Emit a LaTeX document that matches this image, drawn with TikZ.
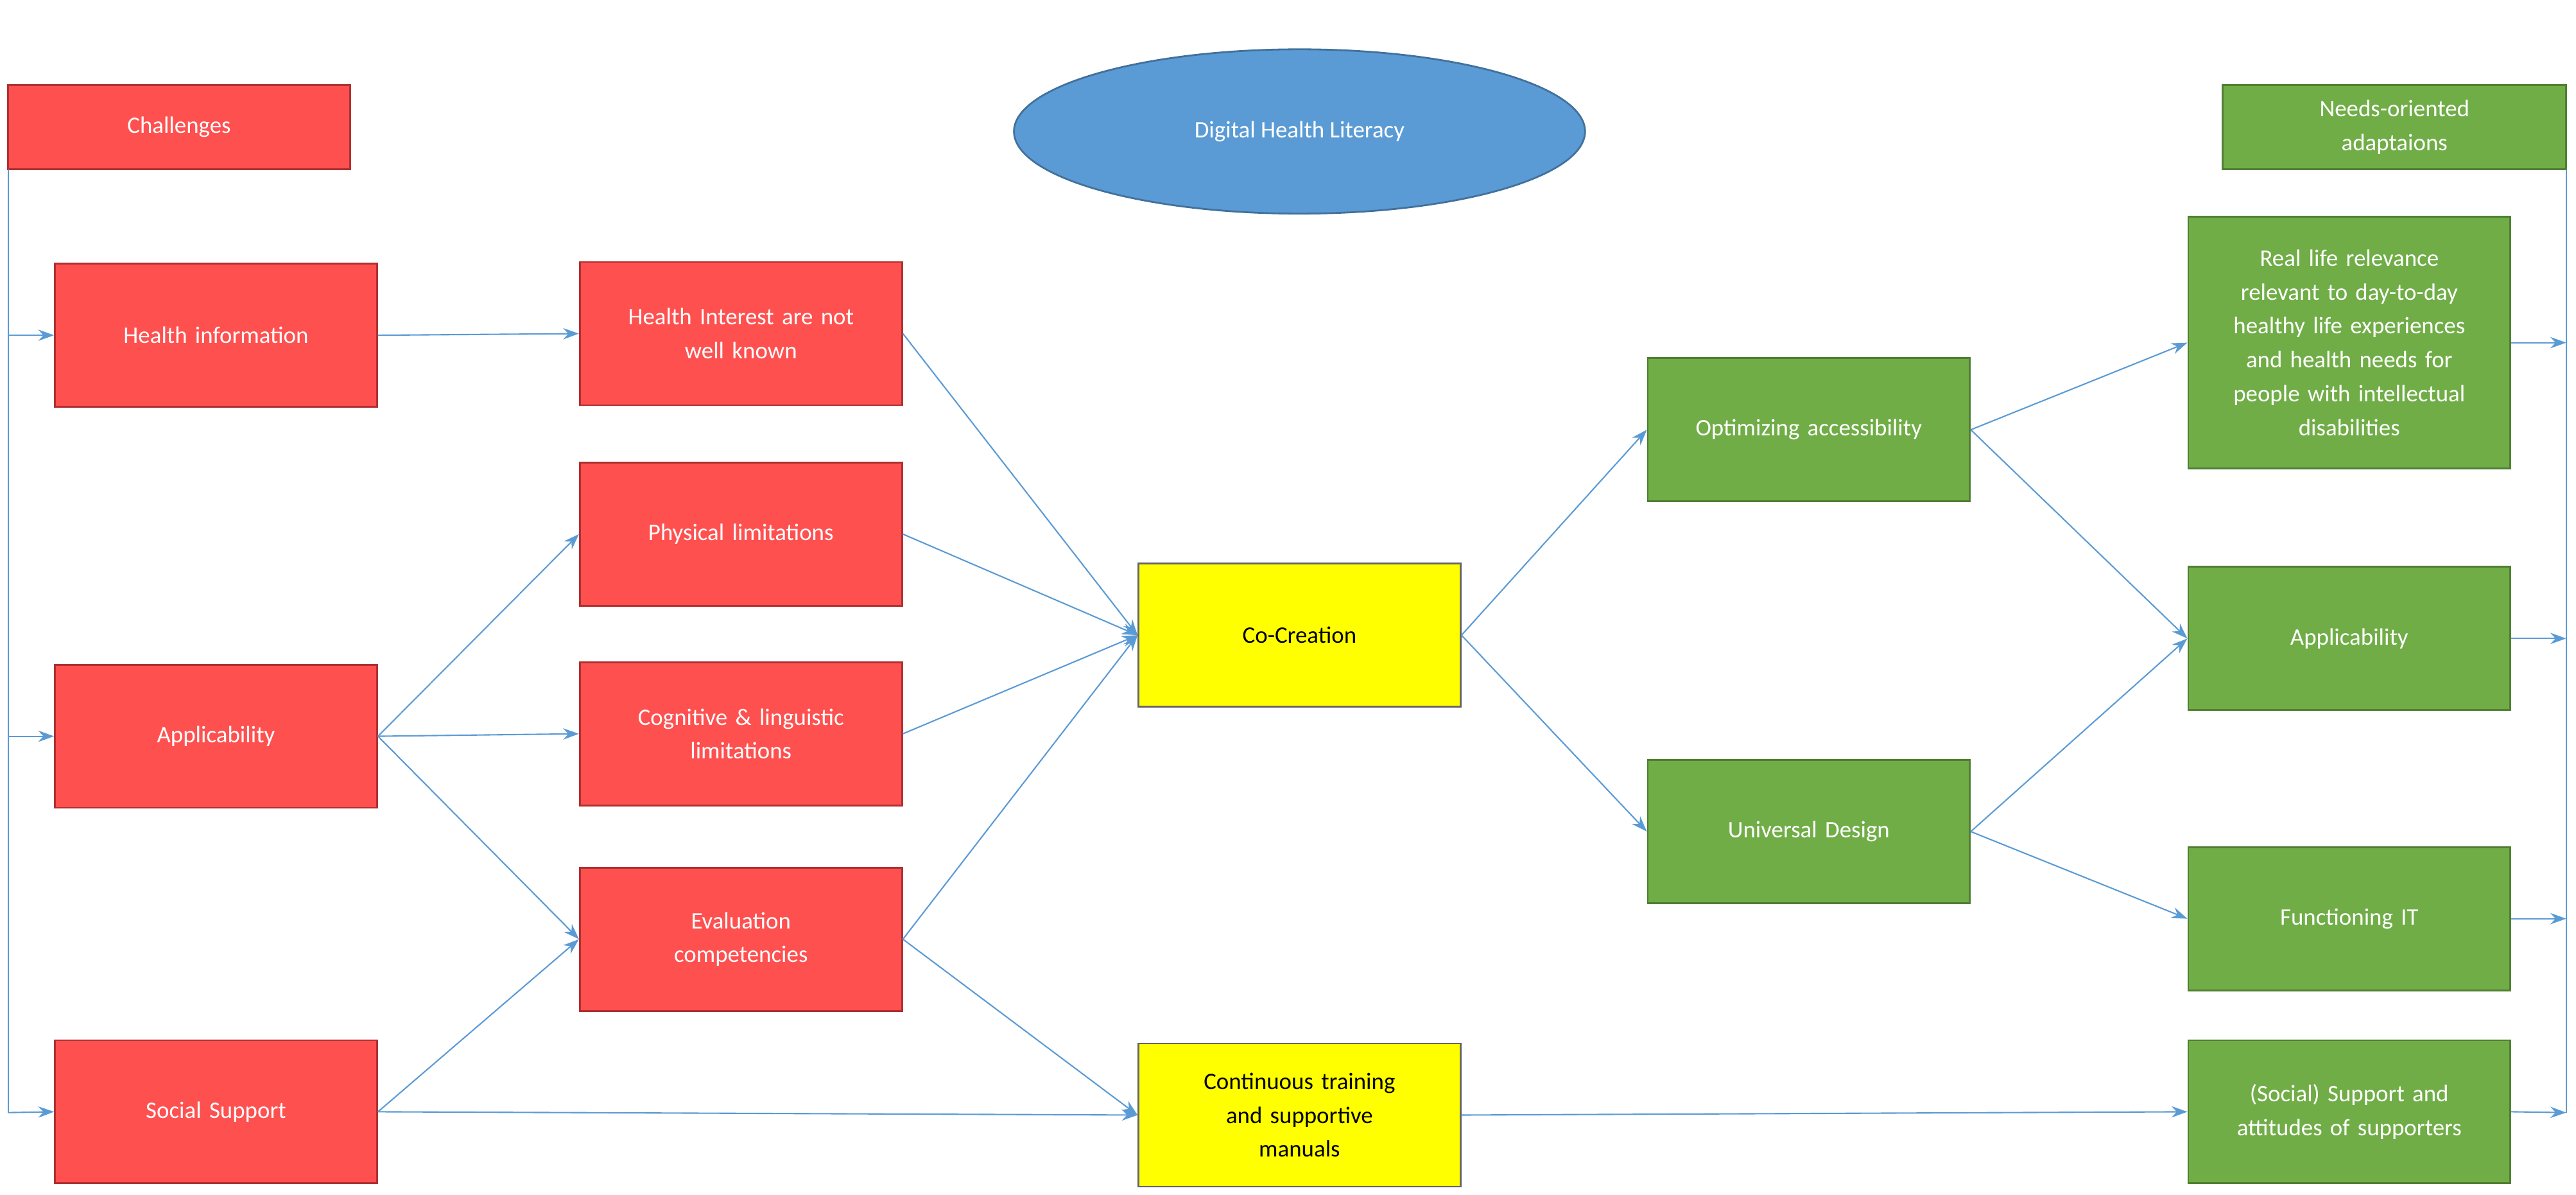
\documentclass[tikz,border=0pt]{standalone}
\usepackage{fontspec}
\setmainfont{Carlito}
\usetikzlibrary{arrows.meta,shapes.geometric}
\definecolor{rd}{HTML}{FF5050}\definecolor{rdb}{HTML}{B03030}
\definecolor{gr}{HTML}{70AD47}\definecolor{grb}{HTML}{507E32}
\definecolor{bl}{HTML}{5B9BD5}\definecolor{blb}{HTML}{41719C}
\definecolor{yl}{HTML}{FFFF00}
\begin{document}
\begin{tikzpicture}[x=0.0256cm,y=-0.0256cm,
 every node/.style={font=\fontsize{10.5}{15}\selectfont,align=center,inner sep=2pt},
 box/.style={draw=#1b,fill=#1,text=white,minimum width=5.02cm,minimum height=2.23cm,line width=0.8pt,text width=4.6cm},
 ybox/.style={draw=black!60,fill=yl,text=black,minimum width=5.02cm,minimum height=2.23cm,line width=0.8pt,text width=4.6cm},
 ar/.style={draw=bl,line width=0.6pt,-{Stealth[length=7pt,width=5pt]}},
 ln/.style={draw=bl,line width=0.6pt}]
\useasboundingbox (0,0) rectangle (1568,727);
\node[box=rd,minimum width=5.33cm,minimum height=1.31cm] (ch) at (109,77.5) {Challenges};
\node[draw=blb,fill=bl,text=white,ellipse,minimum width=8.9cm,minimum height=2.56cm,line width=0.8pt] (dhl) at (791,80) {Digital Health Literacy};
\node[box=gr,minimum width=5.35cm,minimum height=1.31cm] (no) at (1457.5,77.5) {Needs-oriented\\adaptaions};
\node[box=rd] (hi) at (131.5,204) {Health information};
\node[box=rd] (ap) at (131.5,448) {Applicability};
\node[box=rd] (ss) at (131.5,676.5) {Social Support};
\node[box=rd] (hint) at (451,203) {Health Interest are not\\well known};
\node[box=rd] (pl) at (451,325) {Physical limitations};
\node[box=rd] (cl) at (451,446.5) {Cognitive \& linguistic\\limitations};
\node[box=rd] (ev) at (451,571.5) {Evaluation\\competencies};
\node[ybox] (cc) at (791,386.5) {Co-Creation};
\node[ybox] (ct) at (791,678.5) {Continuous training\\and supportive\\manuals};
\node[box=gr] (oa) at (1101,261.5) {Optimizing accessibility};
\node[box=gr] (ud) at (1101,506) {Universal Design};
\node[box=gr,minimum height=3.92cm] (rl) at (1430,208.5) {Real life relevance\\relevant to day-to-day\\healthy life experiences\\and health needs for\\people with intellectual\\disabilities};
\node[box=gr] (apr) at (1430,388.5) {Applicability};
\node[box=gr] (fit) at (1430,559) {Functioning IT};
\node[box=gr] (ssr) at (1430,676.5) {(Social) Support and\\attitudes of supporters};
\coordinate (l1) at (5,103); \coordinate (l2) at (5,677);
\draw[ln] (l1) -- (l2);
\draw[ar] (5,204) -- (hi.west);
\draw[ar] (5,448) -- (ap.west);
\draw[ar] (l2) -- (ss.west);
\coordinate (r1) at (1562,103); \coordinate (r2) at (1562,677);
\draw[ln] (r1) -- (r2);
\draw[ar] (rl.east) -- (1562,208.5);
\draw[ar] (apr.east) -- (1562,388.5);
\draw[ar] (fit.east) -- (1562,559);
\draw[ar] (ssr.east) -- (r2);
\draw[ar] (hi.east) -- (hint.west);
\draw[ar] (hint.east) -- (cc.west);
\draw[ar] (pl.east) -- (cc.west);
\draw[ar] (cl.east) -- (cc.west);
\draw[ar] (ev.east) -- (cc.west);
\draw[ar] (ap.east) -- (pl.west);
\draw[ar] (ap.east) -- (cl.west);
\draw[ar] (ap.east) -- (ev.west);
\draw[ar] (ss.east) -- (ev.west);
\draw[ar] (ss.east) -- (ct.west);
\draw[ar] (ev.east) -- (ct.west);
\draw[ar] (cc.east) -- (oa.west);
\draw[ar] (cc.east) -- (ud.west);
\draw[ar] (oa.east) -- (rl.west);
\draw[ar] (oa.east) -- (apr.west);
\draw[ar] (ud.east) -- (apr.west);
\draw[ar] (ud.east) -- (fit.west);
\draw[ar] (ct.east) -- (ssr.west);
\end{tikzpicture}
\end{document}
